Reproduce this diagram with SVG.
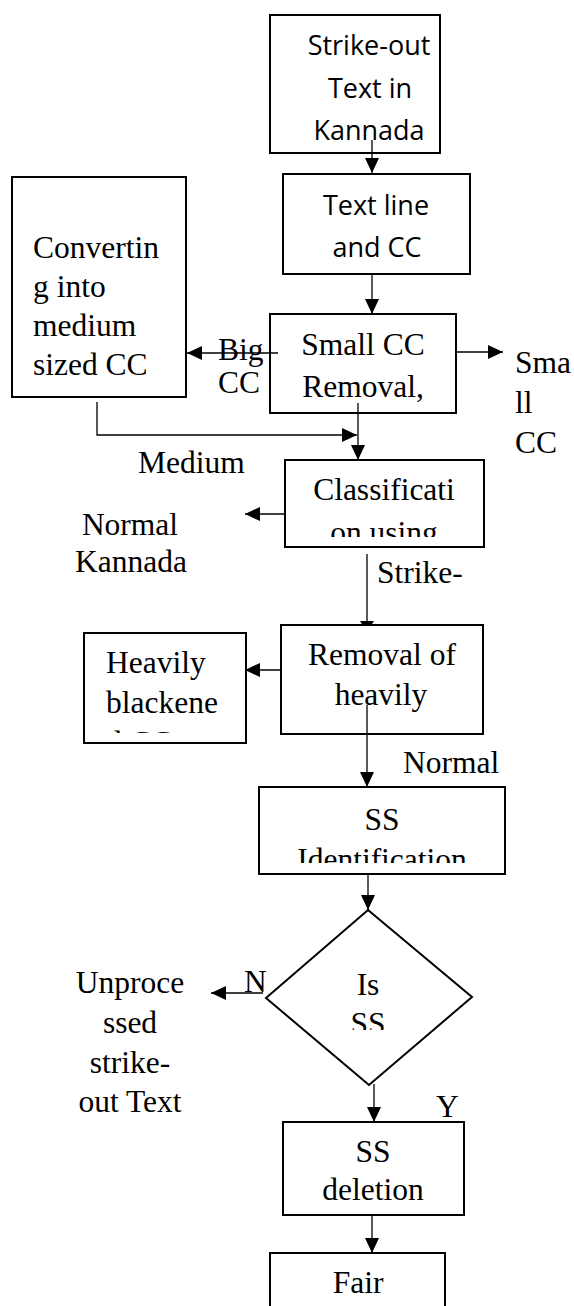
<svg xmlns="http://www.w3.org/2000/svg" width="574" height="1306" viewBox="0 0 574 1306">
<style>
.box{fill:#fff;stroke:#000;stroke-width:2}
.sans{font-family:"Open Sans","Noto Sans","Liberation Sans",sans-serif;font-size:27px;fill:#000}
.serif{font-family:"Liberation Serif","Times New Roman",serif;font-size:31.5px;fill:#000}
.mid{text-anchor:middle}
.con{fill:none;stroke:#000;stroke-width:1.3}
</style>
<defs>
<marker id="arr" viewBox="0 0 15 14" refX="15" refY="7" markerWidth="15" markerHeight="14" orient="auto" markerUnits="userSpaceOnUse"><path d="M0,0 L15,7 L0,14 z" fill="#000"/></marker>
<clipPath id="c4"><rect x="285" y="460" width="200" height="77"/></clipPath>
<clipPath id="c6"><rect x="84" y="633" width="162" height="100"/></clipPath>
<clipPath id="c7"><rect x="259" y="787" width="246" height="76"/></clipPath>
<clipPath id="cd"><rect x="266" y="910" width="207" height="120"/></clipPath>
</defs>
<g id="n1"><rect class="box" x="270" y="15" width="170" height="138"/>
<text class="sans mid" x="369" y="55">Strike-out</text><text class="sans mid" x="370" y="98">Text in</text><text class="sans mid" x="369" y="140">Kannada</text></g>
<g id="n2"><rect class="box" x="283" y="174" width="187" height="100"/>
<text class="sans mid" x="376" y="215">Text line</text><text class="sans mid" x="377" y="257">and CC</text></g>
<g id="n3"><rect class="box" x="12" y="177" width="174" height="220"/>
<text class="serif" x="33" y="258">Convertin</text><text class="serif" x="33" y="297">g into</text><text class="serif" x="33" y="336">medium</text><text class="serif" x="33" y="375">sized CC</text></g>
<g id="n4"><rect class="box" x="270" y="314" width="186" height="99"/>
<text class="serif mid" x="363" y="355">Small CC</text><text class="serif mid" x="363" y="397">Removal,</text></g>
<g id="n5"><rect class="box" x="285" y="460" width="199" height="87"/>
<text class="serif mid" x="384" y="500">Classificati</text><text class="serif mid" x="384" y="543" clip-path="url(#c4)">on using</text></g>
<g id="n6"><rect class="box" x="281" y="625" width="202" height="109"/>
<text class="serif mid" x="382" y="665">Removal of</text><text class="serif mid" x="381" y="705">heavily</text></g>
<g id="n7"><rect class="box" x="84" y="633" width="162" height="110"/>
<text class="serif" x="106" y="673">Heavily</text><text class="serif" x="106" y="713">blackene</text><text class="serif" x="106" y="753" clip-path="url(#c6)">d CC</text></g>
<g id="n8"><rect class="box" x="259" y="787" width="246" height="87"/>
<text class="serif mid" x="382" y="830">SS</text><text class="serif mid" x="382" y="870" clip-path="url(#c7)">Identification</text></g>
<g id="n9"><polygon class="box" points="368,910 472,997 369,1085 266,998"/>
<text class="serif mid" x="368" y="995">Is</text><text class="serif mid" x="368" y="1034" clip-path="url(#cd)">SS</text></g>
<g id="n10"><rect class="box" x="283" y="1122" width="181" height="93"/>
<text class="serif mid" x="373" y="1162">SS</text><text class="serif mid" x="373" y="1200">deletion</text></g>
<g id="n11"><rect class="box" x="270" y="1253" width="175" height="70"/>
<text class="serif mid" x="358" y="1293">Fair</text></g>
<g id="labels">
<text class="serif" x="218" y="360">Big</text><text class="serif" x="218" y="393">CC</text>
<text class="serif" x="515" y="373">Sma</text><text class="serif" x="515" y="413">ll</text><text class="serif" x="515" y="453">CC</text>
<text class="serif" x="138" y="473">Medium</text>
<text class="serif mid" x="130" y="535">Normal</text><text class="serif mid" x="131" y="572">Kannada</text>
<text class="serif" x="377" y="583">Strike-</text>
<text class="serif" x="403" y="773">Normal</text>
<text class="serif" x="244" y="992">N</text>
<text class="serif mid" x="130" y="993">Unproce</text><text class="serif mid" x="130" y="1033">ssed</text><text class="serif mid" x="130" y="1073">strike-</text><text class="serif mid" x="130" y="1112">out Text</text>
<text class="serif" x="436" y="1117">Y</text>
</g>
<g id="connectors">
<line class="con" x1="372" y1="140" x2="372" y2="173" marker-end="url(#arr)"/>
<line class="con" x1="372" y1="274" x2="372" y2="314" marker-end="url(#arr)"/>
<line class="con" x1="278" y1="353" x2="187" y2="353" marker-end="url(#arr)"/>
<line class="con" x1="456" y1="352" x2="503" y2="352" marker-end="url(#arr)"/>
<polyline class="con" points="97,402 97,435 357,435" marker-end="url(#arr)"/>
<line class="con" x1="358" y1="403" x2="358" y2="460" marker-end="url(#arr)"/>
<line class="con" x1="285" y1="514" x2="245" y2="514" marker-end="url(#arr)"/>
<line class="con" x1="367" y1="554" x2="367" y2="622"/>
<polygon points="360,621 374,621 372,624 362,624" fill="#000"/>
<line class="con" x1="281" y1="670" x2="245" y2="670" marker-end="url(#arr)"/>
<line class="con" x1="367" y1="705" x2="367" y2="787" marker-end="url(#arr)"/>
<line class="con" x1="368" y1="875" x2="368" y2="910" marker-end="url(#arr)"/>
<line class="con" x1="263" y1="993" x2="211" y2="993" marker-end="url(#arr)"/>
<line class="con" x1="374" y1="1084" x2="374" y2="1122" marker-end="url(#arr)"/>
<line class="con" x1="372" y1="1215" x2="372" y2="1253" marker-end="url(#arr)"/>
</g>
</svg>
